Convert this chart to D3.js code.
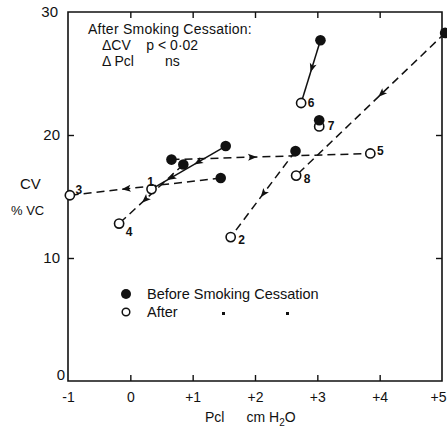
<!DOCTYPE html>
<html><head><meta charset="utf-8">
<script src="https://cdn.jsdelivr.net/npm/d3@7"></script>
<style>
body{margin:0;background:#fff;}
text{font-family:"Liberation Sans",Arial,sans-serif;fill:#111;}
</style></head>
<body><svg id="c" width="447" height="428"></svg>
<script>
// ---- data ----
const subjects = ["1","2","3","4","5","6","7","8"];
const pclBefore = [1.53, 2.65, 1.45, 0.85, 0.66, 3.05, 3.03, 5.05];
const cvBefore  = [19.1, 18.7, 16.5, 17.6, 18.0, 27.7, 21.2, 28.3];
const pclAfter  = [0.34, 1.61, -0.97, -0.18, 3.85, 2.74, 3.03, 2.66];
const cvAfter   = [15.6, 11.7, 15.1, 12.8, 18.5, 22.6, 20.7, 16.7];
const lineType  = ["solid","dashed","dashed","dashed","dashed","solid","none","dashed"];
const xTicks = [-1,0,1,2,3,4,5];
const xTickLabels = ["-1","0","+1","+2","+3","+4","+5"];
const yTicks = [0,10,20,30];
const yTickLabels = ["0","10","20","30"];

// ---- style (not data) ----
const arrowFrac = [[0.38,0.74],[0.5],[0.63],[0.6],[0.41],[0.45],[],[0.43]];
const labelOff = [[-1,-7],[11,3],[9,-5],[10,8],[10,-3],[10,0],[12,-1],[11,3]];

const svg = d3.select("#c");
const x = d3.scaleLinear().domain([-1,5]).range([68,442]);
const y = d3.scaleLinear().domain([0,30]).range([381,12]);
const ink = "#111";

// frame
svg.append("path")
  .attr("d",`M${x(-1)},${y(30)}H${x(5)}V${y(0)}H${x(-1)}Z`)
  .attr("fill","none").attr("stroke",ink).attr("stroke-width",1.6);

// axes ticks
const xb = d3.axisBottom(x).tickValues(xTicks).tickSize(-6).tickFormat((d,i)=>xTickLabels[i]).tickPadding(10);
const gx = svg.append("g").attr("transform",`translate(0,${y(0)})`).call(xb);
gx.select(".domain").remove();
gx.selectAll(".tick line").attr("stroke",ink).attr("stroke-width",1.4);
gx.selectAll(".tick text").attr("font-size",14).attr("dy","0.75em")
  .style("font-family","Liberation Sans, Arial, sans-serif");
gx.selectAll(".tick").filter(d=>d===-1||d===5).select("line").remove();
gx.selectAll(".tick").filter(d=>d===5).select("text").attr("text-anchor","end").attr("x",4);

const xt = d3.axisTop(x).tickValues(xTicks.filter(d=>d>-1&&d<5)).tickSize(-6).tickFormat("");
const gxt = svg.append("g").attr("transform",`translate(0,${y(30)})`).call(xt);
gxt.select(".domain").remove();
gxt.selectAll(".tick line").attr("stroke",ink).attr("stroke-width",1.4);

const yl = d3.axisLeft(y).tickValues(yTicks).tickSize(-6).tickFormat((d,i)=>yTickLabels[i]).tickPadding(8);
const gy = svg.append("g").attr("transform",`translate(${x(-1)},0)`).call(yl);
gy.select(".domain").remove();
gy.selectAll(".tick line").attr("stroke",ink).attr("stroke-width",1.4);
gy.selectAll(".tick").filter(d=>d===0||d===30).select("line").remove();
gy.selectAll(".tick text").attr("font-size",15)
  .style("font-family","Liberation Sans, Arial, sans-serif");
gy.selectAll(".tick").filter(d=>d===0).select("text").attr("dy","-0.1em").attr("x",-3);
gy.selectAll(".tick").filter(d=>d===30).select("text").attr("x",-10);

const yr = d3.axisRight(y).tickValues([10,20]).tickSize(-6).tickFormat("");
const gyr = svg.append("g").attr("transform",`translate(${x(5)},0)`).call(yr);
gyr.select(".domain").remove();
gyr.selectAll(".tick line").attr("stroke",ink).attr("stroke-width",1.4);

// axis titles
svg.append("text").attr("x",20).attr("y",189).attr("font-size",15).text("CV");
svg.append("text").attr("x",11).attr("y",215).attr("font-size",13).text("% VC");
const xt2 = svg.append("text").attr("x",205).attr("y",422).attr("font-size",14);
xt2.append("tspan").text("Pcl");
xt2.append("tspan").attr("dx",22).text("cm H");
xt2.append("tspan").attr("font-size",10).attr("dy",4).text("2");
xt2.append("tspan").attr("dy",-4).text("O");

// annotation
svg.append("text").attr("x",88).attr("y",34).attr("font-size",14).attr("letter-spacing",0.25).text("After Smoking Cessation:");
svg.append("text").attr("x",102).attr("y",50).attr("font-size",14).attr("xml:space","preserve").text("\u0394CV    p < 0\u00b702");
svg.append("text").attr("x",102).attr("y",66).attr("font-size",14).attr("xml:space","preserve").text("\u0394 Pcl        ns");

// connecting lines
const pairs = subjects.map((s,i)=>({s,i,x0:x(pclBefore[i]),y0:y(cvBefore[i]),x1:x(pclAfter[i]),y1:y(cvAfter[i]),t:lineType[i]}));
svg.append("g").selectAll("line").data(pairs.filter(p=>p.t!=="none")).join("line")
  .attr("x1",p=>p.x0).attr("y1",p=>p.y0).attr("x2",p=>p.x1).attr("y2",p=>p.y1)
  .attr("stroke",ink).attr("stroke-width",1.5)
  .attr("stroke-dasharray",p=>p.t==="dashed"?"8,5":null);

// arrowheads
const arrows = [];
pairs.forEach(p=>{
  arrowFrac[p.i].forEach(f=>{
    const ang = Math.atan2(p.y1-p.y0,p.x1-p.x0)*180/Math.PI;
    arrows.push({cx:p.x0+(p.x1-p.x0)*f, cy:p.y0+(p.y1-p.y0)*f, ang});
  });
});
svg.append("g").selectAll("path").data(arrows).join("path")
  .attr("d","M4,0L-5,-3.5L-3,0L-5,3.5Z")
  .attr("transform",a=>`translate(${a.cx},${a.cy}) rotate(${a.ang})`)
  .attr("fill",ink);

// after points (open)
svg.append("g").selectAll("circle").data(pairs).join("circle")
  .attr("cx",p=>p.x1).attr("cy",p=>p.y1).attr("r",4.6)
  .attr("fill","#fff").attr("stroke",ink).attr("stroke-width",1.6);
// before points (filled)
svg.append("g").selectAll("circle").data(pairs).join("circle")
  .attr("cx",p=>p.x0).attr("cy",p=>p.y0).attr("r",5.3).attr("fill",ink);

// subject labels
svg.append("g").selectAll("text").data(pairs).join("text")
  .attr("x",p=>p.x1+labelOff[p.i][0]).attr("y",p=>p.y1+labelOff[p.i][1])
  .attr("text-anchor","middle").attr("dy","0.35em").attr("font-size",12).attr("font-weight","bold")
  .text(p=>p.s);

// legend
svg.append("circle").attr("cx",126).attr("cy",294).attr("r",5).attr("fill",ink);
svg.append("text").attr("x",147).attr("y",299).attr("font-size",14.5).text("Before Smoking Cessation");
svg.append("circle").attr("cx",126).attr("cy",312).attr("r",3.8).attr("fill","#fff").attr("stroke",ink).attr("stroke-width",1.5);
svg.append("text").attr("x",147).attr("y",317).attr("font-size",14.5).text("After");
svg.append("rect").attr("x",222).attr("y",312).attr("width",3).attr("height",3).attr("fill",ink);
svg.append("rect").attr("x",286).attr("y",312).attr("width",3).attr("height",3).attr("fill",ink);
</script></body></html>
